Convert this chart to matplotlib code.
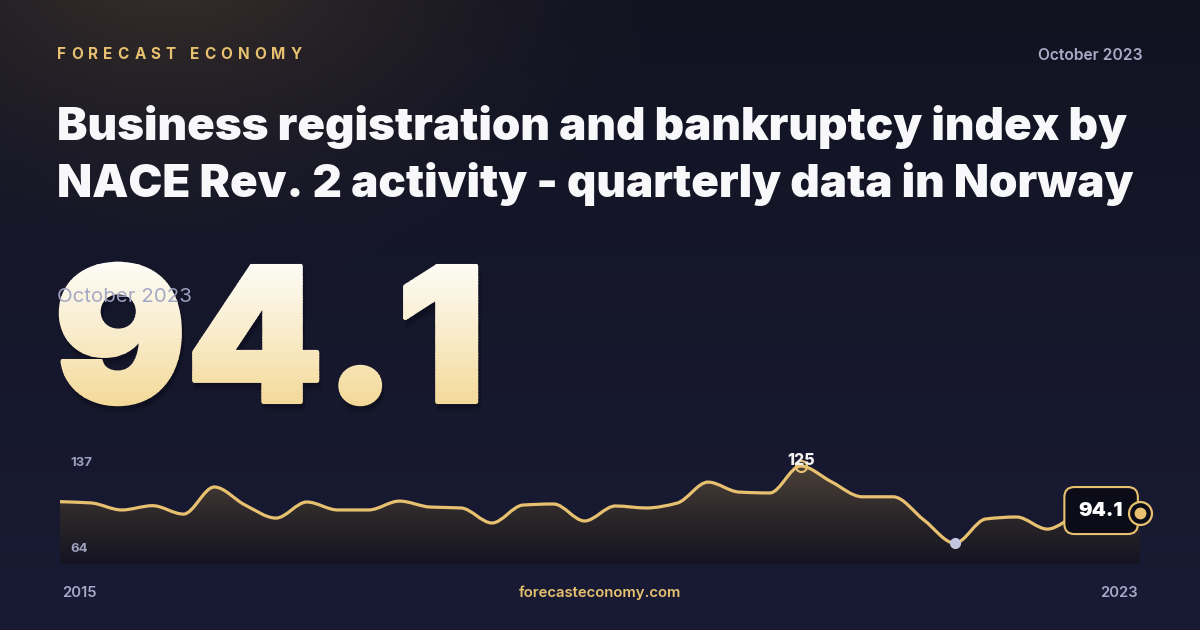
import numpy as np
import matplotlib
matplotlib.use("Agg")
import matplotlib.pyplot as plt
from matplotlib.path import Path
from matplotlib.patches import PathPatch, Rectangle
from matplotlib.textpath import TextPath
from matplotlib.font_manager import FontProperties
from matplotlib.transforms import Affine2D
from matplotlib.colors import LinearSegmentedColormap

# quarterly index, 2015Q1 .. 2023Q4
values = [101.7, 100.9, 96.3, 99.1, 93.6, 111.3, 99.5, 91.0, 101.5, 96.3,
          96.3, 102.1, 98.2, 97.6, 87.8, 99.5, 100.2, 89.1, 98.9, 97.6,
          100.8, 114.5, 108.0, 107.4, 125.0, 114.7, 104.9, 104.9, 89.7, 74.6,
          90.4, 91.7, 83.8, 92.3, 93.2, 94.1]
first_year = "2015"
last_year = "2023"
latest = "October 2023"
headline = "94.1"
axis_max_label = "137"
axis_min_label = "64"
brand = "FORECAST ECONOMY"
site = "forecasteconomy.com"
title_lines = ["Business registration and bankruptcy index by",
               "NACE Rev. 2 activity - quarterly data in Norway"]

GOLD = "#e8c170"
FONT = "Inter"

W, H = 1200, 630
fig = plt.figure(figsize=(12, 6.3), dpi=100)

# background in pixel coords
bg = fig.add_axes([0, 0, 1, 1])
bg.set_xlim(0, W)
bg.set_ylim(H, 0)
bg.axis("off")

yy, xx = np.mgrid[0:H, 0:W]
base_top = np.array([0x12, 0x13, 0x21]) / 255
base_bot = np.array([0x19, 0x1b, 0x35]) / 255
t = (yy / H)[..., None]
img = base_top * (1 - t) + base_bot * t
d = np.sqrt(((xx - 170) / 520.0) ** 2 + ((yy + 40) / 330.0) ** 2)
glow = np.clip(1 - d, 0, 1)[..., None] ** 1.6
warm = np.array([0x3a, 0x30, 0x2a]) / 255
img = img * (1 - glow) + warm * glow
bg.imshow(img, extent=[0, W, H, 0], aspect="auto", zorder=0)

renderer = fig.canvas.get_renderer()


def fit_size(s, width, weight, size0=20):
    tx = bg.text(0, 0, s, fontsize=size0, family=FONT, weight=weight)
    w = tx.get_window_extent(renderer).width
    tx.remove()
    return size0 * width / w


def spaced(x, y, s, width, size, **kw):
    # letter-spaced text spread over a given width
    ws = []
    for ch in s:
        tx = bg.text(0, 0, ch, fontsize=size, **kw)
        ws.append(tx.get_window_extent(renderer).width)
        tx.remove()
    gap = (width - sum(ws)) / (len(s) - 1)
    cx = x
    for ch, w in zip(s, ws):
        bg.text(cx, y, ch, fontsize=size, va="baseline", **kw)
        cx += w + gap


spaced(57, 59, brand, 245, 11, family=FONT, weight="bold", color=GOLD)
bg.text(1143, 60, latest, fontsize=fit_size(latest, 105, "semibold"), family=FONT,
        weight="semibold", color="#a9abc6", ha="right", va="baseline")

ts = fit_size(title_lines[1], 1076, 900)
for k, yb in enumerate([140, 197]):
    bg.text(57, yb, title_lines[k], fontsize=ts, family=FONT, weight=900,
            color="#f8f8fb", va="baseline")

# big headline number, gradient from white to gold, drawn in bands
fp = FontProperties(family=FONT, weight=900)
tp = TextPath((0, 0), headline, size=100, prop=fp)
ext = tp.get_extents()
x0, x1, y0, y1 = 61, 476, 264, 404
sx = (x1 - x0) / ext.width
sy = (y1 - y0) / ext.height
tr = Affine2D().translate(-ext.x0, -ext.y0).scale(sx, -sy).translate(x0, y1)
for k, a in [(9, 0.05), (6, 0.08), (3, 0.12)]:
    bg.add_patch(PathPatch(tp, transform=Affine2D().translate(-ext.x0, -ext.y0)
                           .scale(sx, -sy).translate(x0 + 2, y1 + k) + bg.transData,
                           fc="#05060d", ec="#05060d", lw=4, alpha=a, zorder=2))
cmap_num = LinearSegmentedColormap.from_list("num", ["#fdfcf8", "#f9eccb", "#f3d896"])
nb = 48
edges = np.linspace(y0 - 6, y1 + 6, nb + 1)
for i in range(nb):
    col = cmap_num(i / (nb - 1))
    p = PathPatch(tp, transform=tr + bg.transData, fc=col, ec=col, lw=3.2,
                  joinstyle="round", zorder=3)
    bg.add_patch(p)
    band = Rectangle((0, edges[i]), W, edges[i + 1] - edges[i] + 0.6,
                     transform=bg.transData, fc="none", ec="none")
    p.set_clip_path(band)

bg.text(57, 302, latest, fontsize=fit_size(latest, 135, "normal"), family=FONT,
        color="#a2a5c4", alpha=0.95, va="baseline", zorder=5)

# footer
fs = fit_size(site, 163, "semibold")
bg.text(600, 597, site, fontsize=fs, family=FONT, weight="semibold", color=GOLD,
        ha="center", va="baseline")
bg.text(62, 597, first_year, fontsize=fs, family=FONT, weight="semibold",
        color="#a6a9c7", va="baseline")
bg.text(1138, 597, last_year, fontsize=fs, family=FONT, weight="semibold",
        color="#a6a9c7", ha="right", va="baseline")

# sparkline
ax = fig.add_axes([60 / W, (H - 564) / H, 1080 / W, 124 / H])
ax.set_facecolor("none")
ax.axis("off")
n = len(values)
x = np.arange(n, dtype=float)
y = np.array(values)
ax.set_xlim(0, n - 1)
ax.set_ylim(61.0, 142.0)

lab = fit_size(axis_max_label, 22, "bold")
ax.text(70, 466, axis_max_label, fontsize=lab, family=FONT, weight="bold",
        color="#9c9fbd", va="baseline", transform=bg.transData, zorder=6, clip_on=False)
ax.text(70, 552, axis_min_label, fontsize=lab, family=FONT, weight="bold",
        color="#9c9fbd", va="baseline", transform=bg.transData, zorder=6, clip_on=False)

# monotone tangents -> bezier path
dlt = np.diff(y)
m = np.zeros(n)
m[0], m[-1] = dlt[0], dlt[-1]
for i in range(1, n - 1):
    if dlt[i - 1] * dlt[i] > 0:
        m[i] = 2 / (1 / dlt[i - 1] + 1 / dlt[i])
verts = [(x[0], y[0])]
codes = [Path.MOVETO]
for i in range(n - 1):
    verts += [(x[i] + 1 / 3, y[i] + m[i] / 3),
              (x[i + 1] - 1 / 3, y[i + 1] - m[i + 1] / 3),
              (x[i + 1], y[i + 1])]
    codes += [Path.CURVE4] * 3
line_path = Path(verts, codes)
fill_path = Path(verts + [(x[-1], 61.0), (x[0], 61.0), (x[0], y[0])],
                 codes + [Path.LINETO, Path.LINETO, Path.CLOSEPOLY])

fill_clip = PathPatch(fill_path, transform=ax.transData, fc="none", ec="none")
ax.add_patch(fill_clip)
cmap_fill = LinearSegmentedColormap.from_list("fill", ["#4c4139", "#2c2729", "#141422"])
fimg = ax.imshow(np.linspace(0, 1, 200)[:, None], extent=[0, n - 1, 61.0, 125.0],
                 cmap=cmap_fill, aspect="auto", origin="upper", zorder=1)
fimg.set_clip_path(fill_clip)

ax.add_patch(PathPatch(line_path, fc="none", ec=GOLD, lw=2.3, zorder=3,
                       capstyle="round", joinstyle="round"))

imax = int(np.argmax(y))
imin = int(np.argmin(y))
ax.plot(x[imax], y[imax], "o", ms=8, mfc="none", mec=GOLD, mew=1.5, zorder=4)
ax.annotate(f"{y[imax]:.0f}", (x[imax], y[imax]), xytext=(0, 4), textcoords="offset points",
            ha="center", va="center", fontsize=11.5, family=FONT, weight="heavy",
            color="#f4f2ee", zorder=5)
ax.plot(x[imin], y[imin], "o", ms=8, color="#c3c7de", mec="none", zorder=4)

ax.annotate(f"{y[-1]:.1f}", (x[-1], y[-1]), xytext=(-28, 2), textcoords="offset points",
            ha="center", va="center", fontsize=14.5, family=FONT, weight=900,
            color="white", zorder=6,
            bbox=dict(boxstyle="round,pad=0.72,rounding_size=0.5", fc="#0b0c18",
                      ec=GOLD, lw=1.5))
ax.plot(x[-1], y[-1], "o", ms=16.5, mfc="#0b0c18", mec=GOLD, mew=1.6,
        zorder=7, clip_on=False)
ax.plot(x[-1], y[-1], "o", ms=8.5, color=GOLD, mec="none", zorder=8, clip_on=False)

fig.savefig("out.png", dpi=100)
